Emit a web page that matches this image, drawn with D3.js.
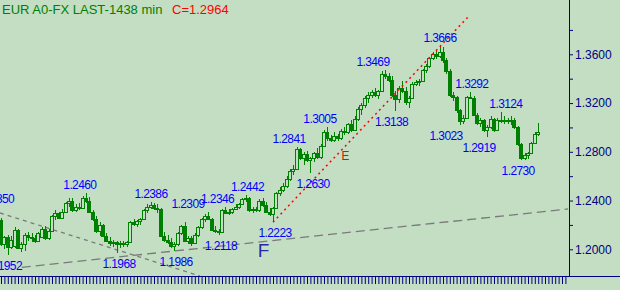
<!DOCTYPE html>
<html>
<head>
<meta charset="utf-8">
<script src="https://cdn.jsdelivr.net/npm/d3@7"></script>
<style>
  body { margin: 0; background: #c4dec4; }
  svg { display: block; font-family: Arial, 'Liberation Sans', sans-serif; }
</style>
</head>
<body>
<script>
// daily bars, oldest first
const opens = [
    1.2240,1.2040,1.2100,1.2020,1.2030,1.2160,1.2010,1.2040,1.2120,1.2100,
    1.2090,1.2070,1.2100,1.2170,1.2090,1.2150,1.2270,1.2300,1.2260,1.2310,
    1.2380,1.2400,1.2320,1.2350,1.2340,1.2420,1.2400,1.2310,1.2250,1.2150,
    1.2200,1.2110,1.2070,1.2050,1.2060,1.2040,1.2050,1.2040,1.2060,1.2220,
    1.2210,1.2230,1.2250,1.2320,1.2350,1.2360,1.2340,1.2330,1.2110,1.2080,
    1.2060,1.2030,1.2040,1.2130,1.2190,1.2070,1.2090,1.2050,1.2120,1.2180,
    1.2250,1.2270,1.2250,1.2160,1.2150,1.2140,1.2320,1.2300,1.2310,1.2330,
    1.2350,1.2370,1.2410,1.2420,1.2320,1.2330,1.2320,1.2400,1.2360,1.2310,
    1.2290,1.2340,1.2460,1.2490,1.2520,1.2580,1.2640,1.2660,1.2820,1.2750,
    1.2780,1.2730,1.2750,1.2790,1.2760,1.2850,1.2960,1.2910,1.2900,1.2930,
    1.2910,1.2970,1.2960,1.3030,1.2980,1.3070,1.3150,1.3180,1.3240,1.3270,
    1.3290,1.3270,1.3300,1.3440,1.3420,1.3390,1.3270,1.3230,1.3320,1.3300,
    1.3210,1.3240,1.3360,1.3370,1.3380,1.3470,1.3500,1.3570,1.3600,1.3590,
    1.3620,1.3550,1.3460,1.3270,1.3250,1.3140,1.3050,1.3080,1.3250,1.3240,
    1.3100,1.3040,1.3060,1.2980,1.3000,1.3070,1.2980,1.3060,1.3050,1.3060,
    1.3050,1.3060,1.3000,1.2860,1.2750,1.2770,1.2790,1.2870,1.2950
];
const highs = [
    1.2260,1.2110,1.2120,1.2110,1.2180,1.2170,1.2060,1.2130,1.2140,1.2130,
    1.2120,1.2140,1.2180,1.2190,1.2170,1.2280,1.2320,1.2310,1.2330,1.2390,
    1.2420,1.2420,1.2370,1.2380,1.2440,1.2460,1.2430,1.2320,1.2270,1.2220,
    1.2210,1.2130,1.2100,1.2080,1.2070,1.2070,1.2070,1.2070,1.2230,1.2250,
    1.2240,1.2260,1.2330,1.2370,1.2386,1.2380,1.2370,1.2340,1.2140,1.2120,
    1.2090,1.2060,1.2140,1.2200,1.2220,1.2110,1.2110,1.2130,1.2190,1.2260,
    1.2290,1.2309,1.2260,1.2190,1.2170,1.2330,1.2346,1.2330,1.2340,1.2370,
    1.2380,1.2420,1.2442,1.2430,1.2350,1.2350,1.2410,1.2420,1.2390,1.2340,
    1.2350,1.2470,1.2510,1.2540,1.2600,1.2660,1.2690,1.2841,1.2830,1.2800,
    1.2810,1.2760,1.2800,1.2830,1.2860,1.2980,1.3005,1.2940,1.2960,1.2950,
    1.2990,1.3000,1.3040,1.3060,1.3090,1.3170,1.3200,1.3260,1.3290,1.3310,
    1.3320,1.3310,1.3460,1.3469,1.3450,1.3420,1.3300,1.3340,1.3380,1.3330,
    1.3260,1.3370,1.3390,1.3400,1.3480,1.3520,1.3580,1.3620,1.3630,1.3666,
    1.3660,1.3570,1.3480,1.3290,1.3260,1.3150,1.3100,1.3260,1.3292,1.3260,
    1.3120,1.3080,1.3070,1.3020,1.3090,1.3080,1.3080,1.3124,1.3090,1.3080,
    1.3090,1.3080,1.3010,1.2870,1.2790,1.2800,1.2880,1.2960,1.3040
];
const lows = [
    1.2030,1.2000,1.1952,1.2000,1.2010,1.2000,1.1975,1.1985,1.2070,1.2060,
    1.2050,1.2060,1.2090,1.2080,1.2080,1.2140,1.2240,1.2250,1.2250,1.2300,
    1.2350,1.2310,1.2310,1.2320,1.2330,1.2380,1.2300,1.2230,1.2130,1.2110,
    1.2100,1.2060,1.2030,1.2020,1.1968,1.2010,1.2020,1.2020,1.2050,1.2190,
    1.2180,1.2200,1.2240,1.2300,1.2330,1.2320,1.2300,1.2100,1.2060,1.2040,
    1.2010,1.1986,1.2030,1.2120,1.2060,1.2040,1.2030,1.2040,1.2100,1.2170,
    1.2220,1.2240,1.2150,1.2130,1.2118,1.2130,1.2290,1.2280,1.2290,1.2320,
    1.2330,1.2360,1.2390,1.2310,1.2300,1.2310,1.2310,1.2350,1.2300,1.2270,
    1.2223,1.2330,1.2440,1.2470,1.2500,1.2560,1.2610,1.2650,1.2730,1.2690,
    1.2720,1.2630,1.2720,1.2740,1.2740,1.2840,1.2890,1.2880,1.2880,1.2890,
    1.2900,1.2940,1.2950,1.2960,1.2970,1.3050,1.3100,1.3160,1.3200,1.3240,
    1.3250,1.3230,1.3290,1.3400,1.3370,1.3250,1.3138,1.3200,1.3280,1.3180,
    1.3160,1.3230,1.3340,1.3340,1.3370,1.3450,1.3490,1.3550,1.3560,1.3570,
    1.3530,1.3440,1.3250,1.3220,1.3120,1.3023,1.3030,1.3070,1.3230,1.3090,
    1.3020,1.3000,1.2960,1.2919,1.2990,1.2960,1.2970,1.3040,1.3030,1.3030,
    1.3020,1.2990,1.2850,1.2730,1.2735,1.2740,1.2780,1.2860,1.2930
];
const closes = [
    1.2040,1.2100,1.2020,1.2080,1.2160,1.2010,1.2040,1.2120,1.2100,1.2090,
    1.2070,1.2130,1.2170,1.2090,1.2150,1.2270,1.2300,1.2260,1.2310,1.2380,
    1.2400,1.2320,1.2350,1.2340,1.2420,1.2400,1.2310,1.2250,1.2150,1.2200,
    1.2110,1.2070,1.2050,1.2060,1.2040,1.2050,1.2040,1.2060,1.2220,1.2210,
    1.2230,1.2250,1.2320,1.2350,1.2360,1.2340,1.2330,1.2110,1.2080,1.2060,
    1.2030,1.2040,1.2130,1.2190,1.2070,1.2090,1.2050,1.2120,1.2180,1.2250,
    1.2270,1.2250,1.2160,1.2150,1.2140,1.2320,1.2300,1.2310,1.2330,1.2350,
    1.2370,1.2410,1.2420,1.2320,1.2330,1.2320,1.2400,1.2360,1.2310,1.2290,
    1.2340,1.2460,1.2490,1.2520,1.2580,1.2640,1.2660,1.2820,1.2750,1.2780,
    1.2730,1.2750,1.2790,1.2760,1.2850,1.2960,1.2910,1.2900,1.2930,1.2910,
    1.2970,1.2960,1.3030,1.2980,1.3070,1.3150,1.3180,1.3240,1.3270,1.3290,
    1.3270,1.3300,1.3440,1.3420,1.3390,1.3270,1.3230,1.3320,1.3300,1.3210,
    1.3240,1.3360,1.3370,1.3380,1.3470,1.3500,1.3570,1.3600,1.3590,1.3620,
    1.3550,1.3460,1.3270,1.3250,1.3140,1.3050,1.3080,1.3250,1.3240,1.3100,
    1.3040,1.3060,1.2980,1.3000,1.3070,1.2980,1.3060,1.3050,1.3060,1.3050,
    1.3060,1.3000,1.2860,1.2750,1.2770,1.2790,1.2870,1.2950,1.2964
];

// zigzag swing labels: bar index, price, H(igh) or L(ow)
const swingIdx = [-1, 1.3, 23.2, 34.7, 44.1, 51.5, 55, 64.7, 63.7, 72.5, 80.6,
                  91.8, 84.7, 93.8, 109.4, 114.9, 129.1, 138.5, 130.9, 148.5, 140.6, 152.1];
const swingPrice = [1.2350, 1.1952, 1.2460, 1.1968, 1.2386, 1.1986, 1.2309, 1.2118, 1.2346, 1.2442, 1.2223,
                    1.2630, 1.2841, 1.3005, 1.3469, 1.3138, 1.3666, 1.3292, 1.3023, 1.3124, 1.2919, 1.2730];
const swingType = ['H','L','H','L','H','L','H','L','H','H','L',
                   'L','H','H','H','L','H','H','L','H','L','L'];

// drawn trend lines, [bar index, price] end points
const redTrend = [[80, 1.2223], [137.4, 1.3907]];
const grayTrendA = [[-0.3, 1.2298], [58.5, 1.1781]];
const grayTrendB = [[6.1, 1.1852], [166.8, 1.2331]];

// letter marks [bar index, price, text]
const marks = [[101.3, 1.2733, 'E'], [77.2, 1.1937, 'F']];

const majorTicks = [1.20, 1.24, 1.28, 1.32, 1.36];
const minorTicks = [1.22, 1.26, 1.30, 1.34, 1.38];
const slotCount = 167; // bars plus empty future slots

const title = 'EUR A0-FX LAST-1438 min';

const width = 620, height = 290;
const plotRight = 569, plotBottom = 276;
const bg = '#c4dec4', green = '#008000', navy = '#000080';

let svg = d3.select('body').append('svg')
    .attr('width', width)
    .attr('height', height)
;
svg.append('rect')
    .attr('width', width)
    .attr('height', height)
    .attr('fill', bg)
;
svg.append('clipPath')
    .attr('id', 'plotClip')
    .append('rect')
    .attr('width', plotRight)
    .attr('height', plotBottom)
;

let xScale = d3.scaleLinear().domain([0, 166]).range([1, 565.4]);
let yScale = d3.scaleLinear().domain([1.2, 1.36]).range([249.3, 54.3]);

let plot = svg.append('g').attr('clip-path', 'url(#plotClip)');

// trend lines
let lineGen = d3.line().x(d => xScale(d[0])).y(d => yScale(d[1]));
plot.append('path')
    .attr('d', lineGen(grayTrendA))
    .attr('stroke', '#7a7a7a')
    .attr('stroke-width', 1.3)
    .attr('stroke-dasharray', '4,4')
    .attr('fill', 'none')
;
plot.append('path')
    .attr('d', lineGen(grayTrendB))
    .attr('stroke', '#7a7a7a')
    .attr('stroke-width', 1.3)
    .attr('stroke-dasharray', '9,5')
    .attr('fill', 'none')
;

// candles
let bars = d3.range(closes.length).map(i => ({
    i: i, o: opens[i], h: highs[i], l: lows[i], c: closes[i]
}));
let candles = plot.append('g')
    .attr('shape-rendering', 'crispEdges')
    .selectAll('g')
    .data(bars)
    .enter()
    .append('g')
;
const cx = d => Math.round(xScale(d.i)) + 0.5;
const bodyTop = d => Math.round(yScale(Math.max(d.o, d.c))) + 0.5;
const bodyBot = d => Math.max(Math.round(yScale(Math.min(d.o, d.c))) + 0.5, bodyTop(d) + 1);
candles.append('line')
    .attr('x1', cx).attr('x2', cx)
    .attr('y1', d => yScale(d.h)).attr('y2', bodyTop)
    .attr('stroke', green)
    .attr('stroke-width', 1.4)
;
candles.append('line')
    .attr('x1', cx).attr('x2', cx)
    .attr('y1', bodyBot).attr('y2', d => yScale(d.l))
    .attr('stroke', green)
    .attr('stroke-width', 1.4)
;
candles.append('rect')
    .attr('x', d => cx(d) - 2)
    .attr('y', bodyTop)
    .attr('width', 3)
    .attr('height', d => bodyBot(d) - bodyTop(d))
    .attr('fill', d => d.c >= d.o ? bg : green)
    .attr('stroke', green)
;

plot.append('path')
    .attr('d', lineGen(redTrend))
    .attr('stroke', '#ff0000')
    .attr('stroke-width', 1.5)
    .attr('stroke-dasharray', '2,3.5')
    .attr('fill', 'none')
;

// swing labels
plot.selectAll('text.swing')
    .data(swingIdx.map((d, k) => ({ i: d, p: swingPrice[k], t: swingType[k] })))
    .enter()
    .append('text')
    .attr('class', 'swing')
    .attr('x', d => xScale(d.i))
    .attr('y', d => yScale(d.p) + (d.t === 'H' ? -4 : 15))
    .attr('text-anchor', 'middle')
    .attr('font-size', 12)
    .attr('letter-spacing', -0.6)
    .attr('fill', '#0000ff')
    .text(d => d.p.toFixed(4))
;

plot.selectAll('text.mark')
    .data(marks)
    .enter()
    .append('text')
    .attr('class', 'mark')
    .attr('x', d => xScale(d[0]))
    .attr('y', d => yScale(d[1]))
    .attr('text-anchor', 'middle')
    .attr('font-size', d => d[2] === 'F' ? 19 : 12)
    .attr('fill', d => d[2] === 'F' ? '#2828a8' : '#ff0000')
    .text(d => d[2])
;

// right price axis
let yAxis = svg.append('g')
    .attr('transform', `translate(${plotRight}, 0)`)
    .call(d3.axisRight(yScale).tickValues(majorTicks).tickSize(4).tickPadding(2)
        .tickFormat(d3.format('.4f')))
;
svg.append('g')
    .attr('transform', `translate(${plotRight}, 0)`)
    .call(d3.axisRight(yScale).tickValues(minorTicks).tickSize(4).tickFormat(''))
;
svg.selectAll('.domain').remove();
svg.selectAll('.tick line').attr('stroke', navy);
yAxis.selectAll('text')
    .attr('fill', navy)
    .attr('font-size', 12)
    .attr('font-family', 'Arial, Liberation Sans, sans-serif')
;

// bottom bar ticks
let xAxis = svg.append('g')
    .attr('transform', `translate(0, ${plotBottom})`)
    .call(d3.axisBottom(xScale).tickValues(d3.range(slotCount)).tickSize(8).tickFormat(''))
;
xAxis.select('.domain').remove();
xAxis.selectAll('.tick line').attr('stroke', navy);

svg.append('line')
    .attr('x1', plotRight + 0.5).attr('x2', plotRight + 0.5)
    .attr('y1', 0).attr('y2', plotBottom)
    .attr('stroke', navy)
;
svg.append('line')
    .attr('x1', 0).attr('x2', width)
    .attr('y1', plotBottom + 0.5).attr('y2', plotBottom + 0.5)
    .attr('stroke', navy)
;

// header
svg.append('text')
    .attr('x', 2).attr('y', 14)
    .attr('font-size', 13)
    .attr('fill', green)
    .text(title)
;
svg.append('text')
    .attr('x', 172).attr('y', 14)
    .attr('font-size', 13)
    .attr('fill', '#ff0000')
    .text('C=' + closes[closes.length - 1].toFixed(4))
;
</script>
</body>
</html>
